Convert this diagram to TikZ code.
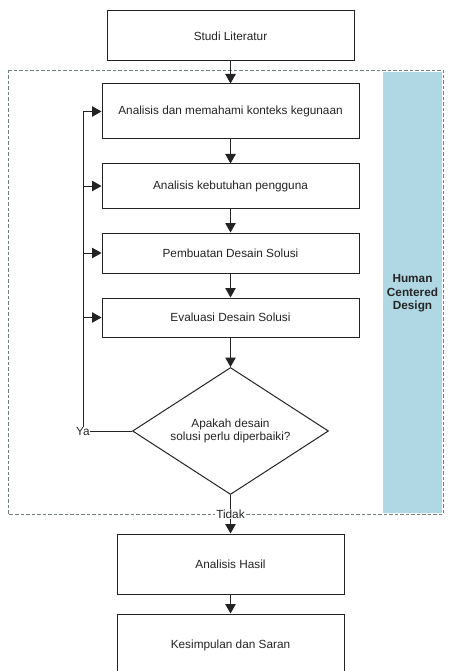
\documentclass[tikz,border=0pt]{standalone}
\usepackage{fontspec}
\setmainfont{Liberation Sans}
\usepackage{tikz}
\usetikzlibrary{arrows.meta,shapes.geometric}
\definecolor{hcdblue}{RGB}{176,216,228}
\definecolor{lin}{RGB}{35,35,35}
\tikzset{
  flownode/.style = {align=center, inner sep=0pt, text centered,
    font=\fontsize{11.8}{12.5}\selectfont, text=lin},
  fl_box/.style = {flownode, rectangle, draw=lin, line width=1pt,
    minimum width=257pt},% kotak proses
  fl_dec/.style = {flownode, diamond, draw=lin, line width=1pt, aspect=1.54,
    minimum width=196pt, minimum height=127pt},% kotak keputusan
  fl_arr/.style = {draw=lin, line width=1pt, -{Triangle[length=9.5pt,width=10.5pt]}},
  fl_lin/.style = {draw=lin, line width=1pt}
}
\begin{document}
\begin{tikzpicture}[x=1pt,y=-1pt]
\useasboundingbox (0,0) rectangle (448,671);
% frame HCD
\fill [hcdblue] (383,72) rectangle (442,513);
\draw [gray!90!teal, line width=0.7pt, dash pattern=on 3.5pt off 2pt] (8,70) rectangle (443,514);
\node [flownode, font=\fontsize{11.8}{13.5}\selectfont\bfseries, text=black!85] (hcd) at (412.5,293.5) {Human\\Centered\\Design};

\node [fl_box, minimum width=247pt, minimum height=50pt] (studi) at (230.5,36) {Studi Literatur};
\node [fl_box, minimum height=55pt] (A) at (230.5,111.5) {Analisis dan memahami konteks kegunaan};
\node [fl_box, minimum height=44pt] (B) at (230.5,186) {Analisis kebutuhan pengguna};
\node [fl_box, minimum height=40pt] (C) at (230.5,253) {Pembuatan Desain Solusi};
\node [fl_box, minimum height=39pt] (D) at (230.5,317.5) {Evaluasi Desain Solusi};
\node [fl_dec] (E) at (230.5,431) {Apakah desain\\solusi perlu diperbaiki?};
\node [flownode] (ya) at (83,431) {Ya};
\node [flownode, fill=white, inner xsep=1pt] (tidak) at (230.5,514) {Tidak};
\node [fl_box, minimum width=227pt, minimum height=60pt] (F) at (230.5,564) {Analisis Hasil};
\node [fl_box, minimum width=227pt, minimum height=62pt] (G) at (230.5,645) {Kesimpulan dan Saran};

\draw [fl_arr] (studi) -- (A);
\draw [fl_arr] (A) -- (B);
\draw [fl_arr] (B) -- (C);
\draw [fl_arr] (C) -- (D);
\draw [fl_arr] (D) -- (E);
\draw [fl_lin] (E.west) -- (ya.east);
\draw [fl_lin] (ya.north) -- (ya.north |- A.west);
\draw [fl_arr] (ya.north |- A.west) -- (A.west);
\draw [fl_arr] (ya.north |- B.west) -- (B.west);
\draw [fl_arr] (ya.north |- C.west) -- (C.west);
\draw [fl_arr] (ya.north |- D.west) -- (D.west);
\draw [fl_lin] (E.south) -- (tidak.north);
\draw [fl_arr] (tidak.south) -- (F);
\draw [fl_arr] (F) -- (G);
\end{tikzpicture}
\end{document}
